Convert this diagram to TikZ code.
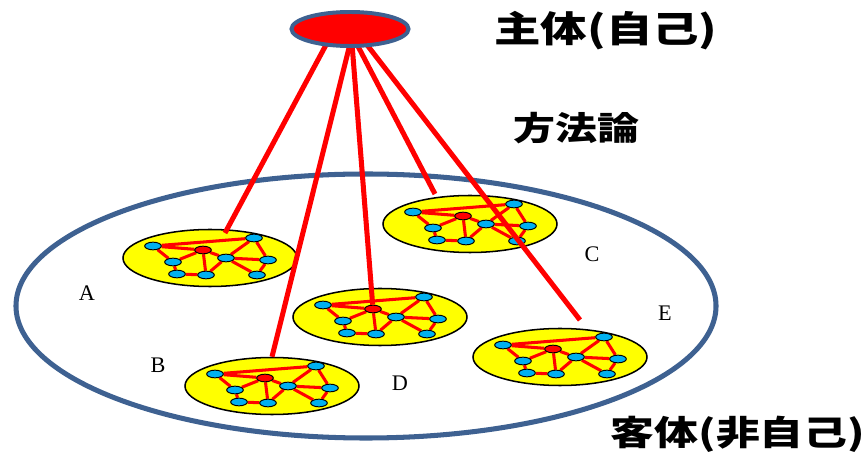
\documentclass[tikz,border=0pt]{standalone}
\usepackage{fontspec}
\setmainfont{Liberation Serif}
\newfontfamily\jp[FakeStretch=1.28]{Noto Sans CJK JP}
\usepackage{tikz}
\usetikzlibrary{backgrounds,shapes.geometric}
\definecolor{rim}{HTML}{3E6191}
\definecolor{hot}{HTML}{FF0000}
\definecolor{sun}{HTML}{FFFF00}
\definecolor{sky}{HTML}{00B0F0}
\pgfdeclarelayer{links}
\pgfdeclarelayer{top}
\pgfsetlayers{background,links,main,top}
\tikzset{
  ring/.style={ellipse,draw=black,line width=1.3pt,fill=sun,minimum width=5.22cm,minimum height=1.71cm,inner sep=0},
  dot/.style={ellipse,draw=black,line width=.8pt,fill=sky,minimum width=.5cm,minimum height=.23cm,inner sep=0},
  hub/.style={dot,fill=hot},
  wire/.style={draw=hot,line width=2.6pt},
  ray/.style={draw=hot,line width=4.3pt,shorten <=-4pt},
  tag/.style={font=\fontsize{19}{22}\selectfont},
  head/.style={font=\jp\bfseries\fontsize{31}{36}\selectfont},
  headsm/.style={font=\jp\bfseries\fontsize{28}{33}\selectfont}
}
% one yellow group with its small network
\newcommand{\cluster}[3]{%
  \begin{pgfonlayer}{background}
    \node[ring] (#1) at (#2,#3) {};
  \end{pgfonlayer}
  \node[hub] (#12) at (#2-7,#3-8) {};
  \foreach \k/\dx/\dy in {1/-57/-12,3/44/-20,4/-37/4,5/16/0,6/58/2,7/-33/16,8/-4/17,9/47/17}
    \node[dot] (#1\k) at (#2+\dx,#3+\dy) {};
  \begin{pgfonlayer}{links}
    \foreach \a/\b in {1/3,1/2,1/4,2/4,2/8,2/5,3/5,3/6,5/6,5/8,5/9,6/9,4/7,7/8}
      \draw[wire] (#1\a) -- (#1\b);
  \end{pgfonlayer}
}

\begin{document}
\begin{tikzpicture}[x=0.03cm,y=-0.03cm]
\useasboundingbox (0,0) rectangle (867,461);

\begin{pgfonlayer}{background}
  \node[ellipse,draw=rim,line width=4.3pt,minimum width=21cm,minimum height=7.92cm] (obj) at (366,306) {};
\end{pgfonlayer}

\cluster{A}{210}{258}
\cluster{B}{272}{386}
\cluster{C}{470}{224}
\cluster{D}{380}{317}
\cluster{E}{560}{357}

\begin{pgfonlayer}{top}
  \node[ellipse,draw=rim,line width=3.4pt,fill=hot,minimum width=3.51cm,minimum height=1.02cm] (subj) at (350,29) {};
\end{pgfonlayer}

\coordinate (Atip) at (225,233);
\coordinate (Ctip) at (435,194);
\coordinate (Etip) at (580,320);
\draw[ray] (subj.215) -- (Atip);
\draw[ray] (subj.267) -- (B.north);
\draw[ray] (subj.277) -- (D2);
\draw[ray] (subj.295) -- (Ctip);
\draw[ray] (subj.316) -- (Etip);

\node[tag] (la) at (87,293) {A};
\node[tag] (lb) at (158,365) {B};
\node[tag] (lc) at (592,254) {C};
\node[tag] (ld) at (400,383) {D};
\node[tag] (le) at (665,313) {E};

\node[head] (self) at (606,31) {主体(自己)};
\node[headsm] (method) at (576,128) {方法論};
\node[head,font=\jp\bfseries\fontsize{29.3}{34}\selectfont] (other) at (738,434) {客体(非自己)};
\end{tikzpicture}
\end{document}
